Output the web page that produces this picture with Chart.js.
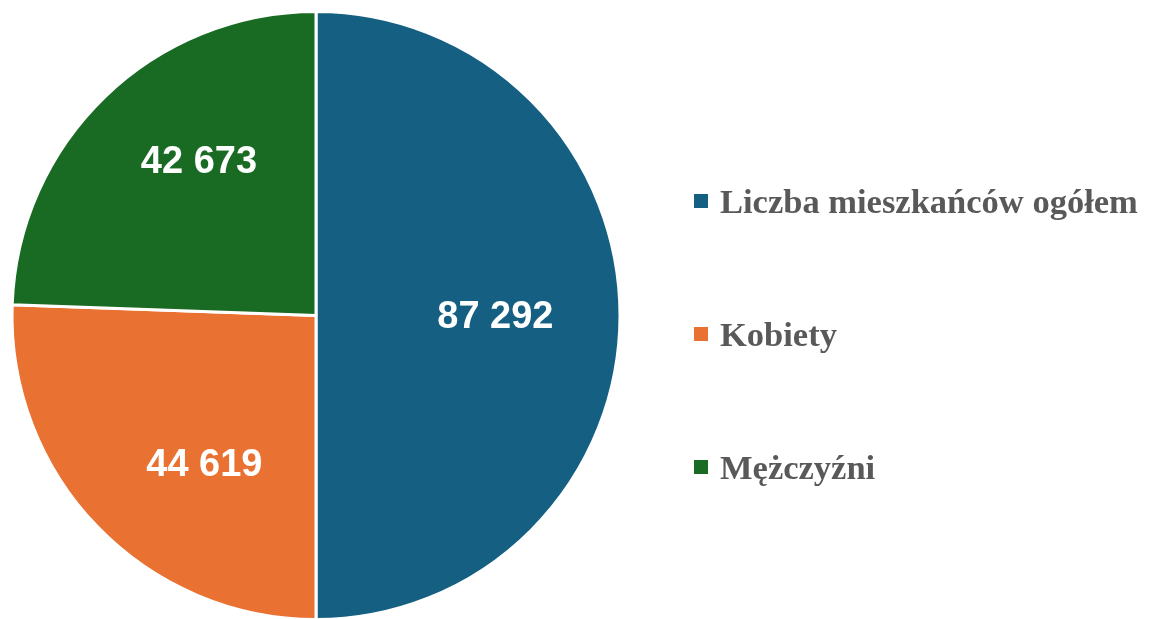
<!DOCTYPE html>
<html>
<head>
<meta charset="utf-8">
<script src="https://cdn.jsdelivr.net/npm/chart.js@4.4.1/dist/chart.umd.min.js"></script>
<style>
  html, body { margin: 0; padding: 0; background: #fff; overflow: hidden; }
  #wrap { position: relative; width: 1156px; height: 619px; overflow: hidden; }
  #legend { position: absolute; left: 694px; top: 0; margin: 0; padding: 0; list-style: none;
    font-family: "Liberation Serif", serif; font-weight: bold; font-size: 34.5px; color: #595959; }
  #legend li { position: absolute; white-space: nowrap; display: flex; align-items: center; }
  #legend span.box { display: inline-block; width: 14px; height: 14px; margin-right: 12px; }
</style>
</head>
<body>
<div id="wrap">
  <canvas id="pie" width="1156" height="626"></canvas>
  <ul id="legend"></ul>
</div>
<script>
(function() {
  'use strict';

  // data
  var categories = ['Liczba mieszkańców ogółem', 'Kobiety', 'Mężczyźni'];
  var values = [87292, 44619, 42673];
  var colors = ['#156082', '#E97132', '#196B24'];
  var legendTops = [201, 334, 467];
  // label placement tweaks (deg shift along the arc, fraction of radius)
  var labelShift = [0, -9, 7];
  var labelRadius = [0.59, 0.61, 0.64];

  function fmt(v) {
    return String(v).replace(/\B(?=(\d{3})+(?!\d))/g, ' ');
  }

  // white value labels inside the slices
  var sliceLabels = {
    id: 'sliceLabels',
    afterDatasetsDraw: function(chart) {
      var ctx = chart.ctx;
      var meta = chart.getDatasetMeta(0);
      ctx.save();
      ctx.fillStyle = '#fff';
      ctx.font = 'bold 38px "Liberation Sans", Arial, sans-serif';
      ctx.textAlign = 'center';
      ctx.textBaseline = 'middle';
      meta.data.forEach(function(arc, i) {
        var p = arc.getProps(['x', 'y', 'startAngle', 'endAngle', 'outerRadius']);
        var mid = (p.startAngle + p.endAngle) / 2 + labelShift[i] * Math.PI / 180;
        var r = p.outerRadius * labelRadius[i];
        ctx.fillText(fmt(values[i]), p.x + Math.cos(mid) * r, p.y + Math.sin(mid) * r + 2);
      });
      ctx.restore();
    }
  };

  new Chart(document.getElementById('pie'), {
    type: 'pie',
    data: {
      labels: categories,
      datasets: [{
        data: values,
        backgroundColor: colors,
        borderColor: '#fff',
        borderWidth: 3
      }]
    },
    options: {
      responsive: false,
      animation: false,
      layout: { padding: { left: 9, top: 10, right: 533, bottom: 5 } },
      plugins: {
        legend: { display: false },
        tooltip: { enabled: false }
      }
    },
    plugins: [sliceLabels]
  });

  var ul = document.getElementById('legend');
  categories.forEach(function(c, i) {
    var li = document.createElement('li');
    li.style.top = (legendTops[i] - 20) + 'px';
    li.style.height = '40px';
    var b = document.createElement('span');
    b.className = 'box';
    b.style.background = colors[i];
    li.appendChild(b);
    li.appendChild(document.createTextNode(c));
    ul.appendChild(li);
  });
})();
</script>
</body>
</html>
